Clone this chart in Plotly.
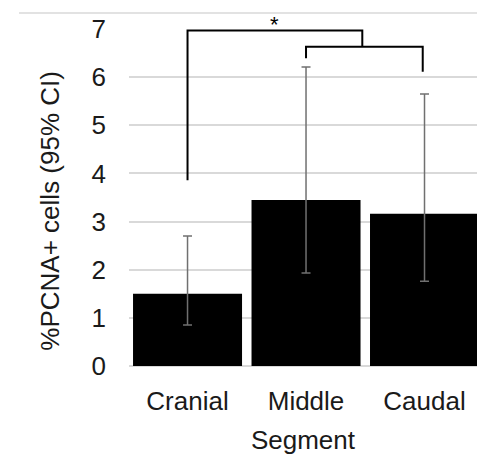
import plotly.graph_objects as go

categories = ["Cranial", "Middle", "Caudal"]
means = [1.50, 3.45, 3.16]
ci_upper = [2.70, 6.21, 5.65]
ci_lower = [0.85, 1.93, 1.76]
x_pos = [0, 1, 2]

# significance brackets (x in category units, y in data units)
bracket_big_x = [0, 0, 1.475, 1.475]
bracket_big_y = [3.86, 6.97, 6.97, 6.63]
bracket_small_x = [1, 1, 1.985, 1.985]
bracket_small_y = [6.39, 6.63, 6.63, 6.11]
star_x, star_y, star_text = 0.73, 7.0, "*"

err_plus = [u - m for u, m in zip(ci_upper, means)]
err_minus = [m - l for m, l in zip(means, ci_lower)]

FONT = "Liberation Sans, Arial, sans-serif"
TXT = "#1a1a1a"

fig = go.Figure()
fig.add_trace(go.Bar(
    x=x_pos, y=means, width=0.92,
    marker=dict(color="black", line=dict(width=0)),
    error_y=dict(type="data", symmetric=False, array=err_plus, arrayminus=err_minus,
                 color="#707070", thickness=1.5, width=4.5),
    showlegend=False,
))
for bx, by in [(bracket_big_x, bracket_big_y), (bracket_small_x, bracket_small_y)]:
    fig.add_trace(go.Scatter(x=bx, y=by, mode="lines",
                             line=dict(color="black", width=2),
                             cliponaxis=False, showlegend=False, hoverinfo="skip"))

fig.add_annotation(x=star_x, y=star_y, text=star_text, showarrow=False,
                   xref="x", yref="y", xanchor="center", yanchor="bottom", yshift=-10,
                   font=dict(family=FONT, size=22, color="black"))

fig.add_annotation(x=-0.227, y=0.461, xref="paper", yref="paper",
                   xanchor="center", yanchor="middle",
                   text="%PCNA+ cells (95% CI)", textangle=-90, showarrow=False,
                   font=dict(family=FONT, size=26, color=TXT))

fig.add_shape(type="line", xref="paper", yref="paper", x0=-0.316, x1=1.0,
              y0=1.0475, y1=1.0475, line=dict(color="#d9d9d9", width=1.5))

fig.update_layout(
    width=477, height=455,
    margin=dict(l=129, r=0, t=29, b=89),
    paper_bgcolor="white", plot_bgcolor="white",
    font=dict(family=FONT, size=26, color=TXT),
    xaxis=dict(range=[-0.494, 2.443], tickvals=x_pos, ticktext=categories,
               showgrid=False, zeroline=False, showline=False, ticks="",
               ticklabelstandoff=17,
               title=dict(text="Segment", standoff=15, font=dict(size=26, color=TXT)),
               tickfont=dict(size=26, color=TXT)),
    yaxis=dict(range=[0, 7], dtick=1, showgrid=True, gridcolor="#d9d9d9", gridwidth=1.5,
               zeroline=True, zerolinecolor="#d9d9d9", zerolinewidth=1.5,
               showline=False, ticks="", ticklabelstandoff=22,
               tickfont=dict(size=26, color=TXT)),
)

fig.write_html("out.html", config={"displayModeBar": False},
               post_script="document.body.style.margin='0';document.body.style.overflow='hidden';")
